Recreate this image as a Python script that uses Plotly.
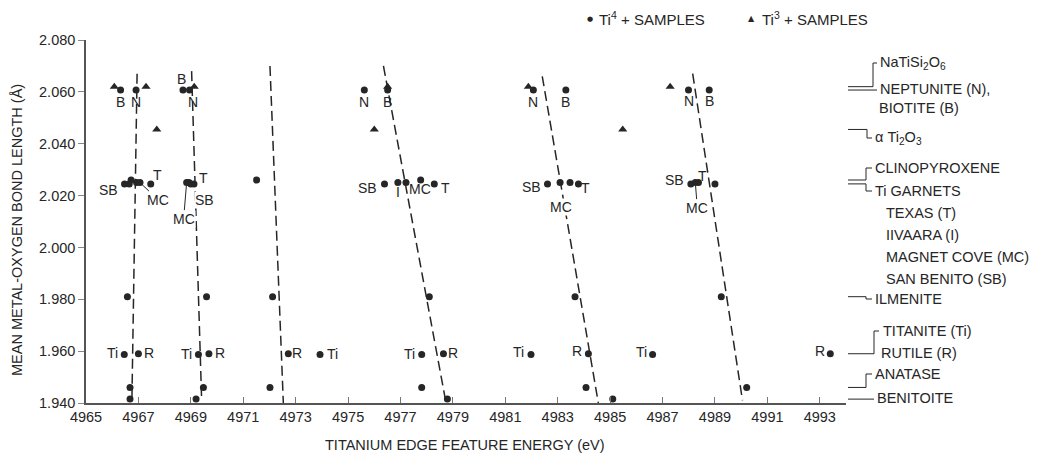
import plotly.graph_objects as go

# ---------------- axes ----------------
X_RANGE = [4965, 4994]
Y_RANGE = [1.940, 2.080]
x_ticks = [4965, 4967, 4969, 4971, 4973, 4975, 4977, 4979, 4981, 4983, 4985, 4987, 4989, 4991, 4993]
y_ticks = [1.940, 1.960, 1.980, 2.000, 2.020, 2.040, 2.060, 2.080]

# ---------------- Ti4+ samples (circles) ----------------
neptunite_x = [4966.91, 4968.95, 4975.62, 4982.07, 4987.99]
neptunite_y = 2.0607
biotite_x = [4966.32, 4968.70, 4976.51, 4983.31, 4988.78]
biotite_y = 2.0607
clinopyroxene_x = [4966.72, 4971.51, 4977.77]
clinopyroxene_y = 2.026
garnet_T_x = [4967.47, 4969.12, 4978.29, 4983.79, 4989.00]
garnet_T_y = 2.0245
garnet_I_x = [4966.93, 4968.93, 4976.90, 4983.09, 4988.37]
garnet_I_y = 2.025
garnet_MC_x = [4967.06, 4968.84, 4977.21, 4983.47, 4988.25]
garnet_MC_y = 2.025
garnet_SB_x = [4966.47, 4966.65, 4969.00, 4976.39, 4982.61, 4988.08]
garnet_SB_y = 2.0245
ilmenite_x = [4966.58, 4969.60, 4972.12, 4978.10, 4983.66, 4989.24]
ilmenite_y = 1.981
titanite_x = [4966.46, 4969.29, 4973.93, 4977.81, 4981.98, 4986.62]
titanite_y = 1.9587
rutile_x = [4967.00, 4969.69, 4972.72, 4978.64, 4984.17, 4993.40]
rutile_y = 1.959
anatase_x = [4966.68, 4969.48, 4972.02, 4977.81, 4984.08, 4990.21]
anatase_y = 1.946
benitoite_x = [4966.68, 4969.20, 4978.79, 4985.10]
benitoite_y = 1.9415

# ---------------- Ti3+ samples (triangles) ----------------
natisi2o6_x = [4966.08, 4967.29, 4969.13, 4976.51, 4981.88, 4987.29]
natisi2o6_y = 2.062
ti2o3_x = [4967.70, 4976.00, 4985.48]
ti2o3_y = 2.0455

# ---------------- dashed trend lines (endpoints) ----------------
trend_x_top = [4966.95, 4969.03, 4972.02, 4976.35, 4982.41, 4988.15]
trend_y_top = [2.067, 2.068, 2.070, 2.070, 2.066, 2.067]
trend_x_bot = [4966.75, 4969.41, 4972.53, 4978.72, 4984.55, 4990.05]
trend_y_bot = [1.940, 1.942, 1.940, 1.941, 1.940, 1.941]

INK = "#262626"
FONT = "Liberation Sans, Arial, sans-serif"
LBL = 14      # point label size
SIDE = 14.5   # right-hand label size

# page body has an 8px default margin: build the figure so that it lands
# where the reference puts things (reference pixel coords used below)
OFF = 8
W, H = 1044 - OFF, 460 - OFF
L, R, T, B = 86, 846, 40, 403   # plot area in reference pixels

fig = go.Figure()

# trend lines
tx, ty = [], []
for a, b, c, d in zip(trend_x_top, trend_y_top, trend_x_bot, trend_y_bot):
    tx += [a, c, None]
    ty += [b, d, None]
fig.add_trace(go.Scatter(x=tx, y=ty, mode="lines",
                         line=dict(color=INK, width=1.5, dash="10px,5px"),
                         hoverinfo="skip", showlegend=False))

circle_sets = [
    (neptunite_x, neptunite_y), (biotite_x, biotite_y),
    (clinopyroxene_x, clinopyroxene_y), (garnet_T_x, garnet_T_y),
    (garnet_I_x, garnet_I_y), (garnet_MC_x, garnet_MC_y),
    (garnet_SB_x, garnet_SB_y), (ilmenite_x, ilmenite_y),
    (titanite_x, titanite_y), (rutile_x, rutile_y),
    (anatase_x, anatase_y), (benitoite_x, benitoite_y),
]
for xs, yv in circle_sets:
    fig.add_trace(go.Scatter(x=xs, y=[yv] * len(xs), mode="markers",
                             marker=dict(symbol="circle", size=7, color=INK),
                             showlegend=False))
for xs, yv in [(natisi2o6_x, natisi2o6_y), (ti2o3_x, ti2o3_y)]:
    fig.add_trace(go.Scatter(x=xs, y=[yv] * len(xs), mode="markers",
                             marker=dict(symbol="triangle-up", size=8, color=INK),
                             showlegend=False))

annotations = []


def lab(text, x, y, dx, dy, bg=None):
    d = dict(text=text, x=x, y=y, xref="x", yref="y", showarrow=False,
             xanchor="center", yanchor="middle",
             xshift=dx, yshift=dy, font=dict(size=LBL, color=INK, family=FONT))
    if bg:
        d.update(bgcolor=bg, borderpad=0)
    annotations.append(d)


def lead(text, x, y, ax, ay):
    annotations.append(dict(text=text, x=x, y=y, xref="x", yref="y", showarrow=True,
                            arrowhead=0, arrowwidth=1, arrowcolor=INK, ax=ax, ay=ay,
                            standoff=3, font=dict(size=LBL, color=INK, family=FONT),
                            bgcolor="white", borderpad=0))


# group A
lab("B", biotite_x[0], biotite_y, 0, -12)
lab("N", neptunite_x[0], neptunite_y, 0, -12)
lab("SB", garnet_SB_x[0], garnet_SB_y, -16, -6)
lab("T", garnet_T_x[0], garnet_T_y, 7, 9)
lead("MC", garnet_MC_x[0], garnet_MC_y, 18, 17)
lab("Ti", titanite_x[0], titanite_y, -12, 2)
lab("R", rutile_x[0], rutile_y, 11, 1)
# group B
lab("B", biotite_x[1], biotite_y, -1, 11)
lab("N", neptunite_x[1], neptunite_y, 3, -12)
lab("T", garnet_T_x[1], garnet_T_y, 10, 6)
lab("SB", garnet_SB_x[2], garnet_SB_y, 14, -16, bg="white")
lead("MC", garnet_MC_x[1], garnet_MC_y, -3, 36)
lab("Ti", titanite_x[1], titanite_y, -12, 1)
lab("R", rutile_x[1], rutile_y, 11, 1)
# group C
lab("R", rutile_x[2], rutile_y, 9, 1)
lab("Ti", titanite_x[2], titanite_y, 12, 1)
# group D
lab("N", neptunite_x[2], neptunite_y, 0, -12)
lab("B", biotite_x[2], biotite_y, 0, -12)
lab("SB", garnet_SB_x[3], garnet_SB_y, -17, -4)
lab("I", garnet_I_x[2], garnet_I_y, 0, -9)
lab("MC", garnet_MC_x[2], garnet_MC_y, 14, -6)
lab("T", garnet_T_x[2], garnet_T_y, 11, -4)
lab("Ti", titanite_x[3], titanite_y, -12, 1)
lab("R", rutile_x[3], rutile_y, 10, 1)
# group E
lab("N", neptunite_x[3], neptunite_y, 0, -12)
lab("B", biotite_x[3], biotite_y, 0, -12)
lab("SB", garnet_SB_x[4], garnet_SB_y, -16, -3)
lab("T", garnet_T_x[3], garnet_T_y, 7, -4)
lab("MC", garnet_MC_x[3], garnet_MC_y, -9, -24, bg="white")
lab("Ti", titanite_x[4], titanite_y, -12, 3)
lab("R", rutile_x[4], rutile_y, -11, 3)
lab("Ti", titanite_x[5], titanite_y, -11, 3)
# group F
lab("N", neptunite_x[4], neptunite_y, 0, -11)
lab("B", biotite_x[4], biotite_y, 0, -11)
lab("SB", garnet_SB_x[5], garnet_SB_y, -16, 4)
lab("T", garnet_T_x[4], garnet_T_y, -12, 8)
lead("MC", garnet_MC_x[4], garnet_MC_y, 2, 25)
lab("R", rutile_x[5], rutile_y, -10, 3)


# ---------------- geometry helpers for outside-plot text ----------------
def PX(px):
    return (px - L) / (R - L)


def PY(py):
    return (B - py) / (B - T)


def DY(v):
    return (v - Y_RANGE[0]) / (Y_RANGE[1] - Y_RANGE[0])


shapes = []


def seg(x0, y0, x1, y1):
    shapes.append(dict(type="line", xref="paper", yref="paper", x0=PX(x0), x1=PX(x1),
                       y0=y0, y1=y1, line=dict(color=INK, width=1)))


# NaTiSi2O6 / neptunite / biotite
seg(848, DY(natisi2o6_y), 873, DY(natisi2o6_y))
seg(873, DY(natisi2o6_y), 873, PY(63))
seg(873, PY(63), 877, PY(63))
seg(848, DY(neptunite_y), 877, DY(neptunite_y))
# alpha Ti2O3
seg(848, DY(ti2o3_y), 867, DY(ti2o3_y))
seg(867, DY(ti2o3_y), 867, PY(138))
seg(867, PY(138), 872, PY(138))
# clinopyroxene / garnets
seg(848, DY(clinopyroxene_y), 866, DY(clinopyroxene_y))
seg(866, DY(clinopyroxene_y), 866, PY(168))
seg(866, PY(168), 872, PY(168))
seg(848, DY(garnet_T_y), 866, DY(garnet_T_y))
seg(866, DY(garnet_T_y), 866, PY(191))
seg(866, PY(191), 872, PY(191))
# ilmenite
seg(848, DY(ilmenite_y), 866, DY(ilmenite_y))
seg(866, DY(ilmenite_y), 866, PY(299))
seg(866, PY(299), 872, PY(299))
# titanite / rutile
seg(848, DY(rutile_y), 874, DY(rutile_y))
seg(874, DY(rutile_y), 874, PY(331))
seg(874, PY(331), 879, PY(331))
# anatase
seg(848, DY(anatase_y), 866, DY(anatase_y))
seg(866, DY(anatase_y), 866, PY(374))
seg(866, PY(374), 872, PY(374))
# benitoite
seg(848, DY(benitoite_y), 874, DY(benitoite_y))

right_labels = [
    ("NaTiSi<sub>2</sub>O<sub>6</sub>", 878, 63),
    ("NEPTUNITE (N),", 878, 89),
    ("BIOTITE (B)", 877, 108),
    ("α Ti<sub>2</sub>O<sub>3</sub>", 873, 138),
    ("CLINOPYROXENE", 873, 168),
    ("Ti GARNETS", 873, 191),
    ("TEXAS (T)", 884, 213),
    ("IIVAARA (I)", 884, 235),
    ("MAGNET COVE (MC)", 884, 257),
    ("SAN BENITO (SB)", 884, 279),
    ("ILMENITE", 873, 299),
    ("TITANITE (Ti)", 881, 331),
    ("RUTILE (R)", 879, 353),
    ("ANATASE", 873, 374),
    ("BENITOITE", 875, 398),
]
for text, px, py in right_labels:
    annotations.append(dict(text=text, x=PX(px), y=PY(py), xref="paper", yref="paper",
                            xanchor="left", yanchor="middle", showarrow=False,
                            font=dict(size=SIDE, color=INK, family=FONT)))

# legend (top)
annotations += [
    dict(text="●", x=PX(590), y=PY(19), xref="paper", yref="paper", showarrow=False,
         xanchor="center", yanchor="middle",
         font=dict(size=7, color=INK, family="DejaVu Sans")),
    dict(text="Ti<sup>4</sup> + SAMPLES", x=PX(597), y=PY(19), xref="paper", yref="paper",
         xanchor="left", yanchor="middle", showarrow=False,
         font=dict(size=15, color=INK, family=FONT)),
    dict(text="▲", x=PX(751), y=PY(18), xref="paper", yref="paper", showarrow=False,
         xanchor="center", yanchor="middle",
         font=dict(size=8, color=INK, family="DejaVu Sans")),
    dict(text="Ti<sup>3</sup> + SAMPLES", x=PX(760), y=PY(19), xref="paper", yref="paper",
         xanchor="left", yanchor="middle", showarrow=False,
         font=dict(size=15, color=INK, family=FONT)),
]

# axis titles
annotations += [
    dict(text="TITANIUM EDGE FEATURE ENERGY (eV)", x=PX(465), y=PY(445), xref="paper",
         yref="paper", xanchor="center", yanchor="middle", showarrow=False,
         font=dict(size=14.5, color=INK, family=FONT)),
    dict(text="MEAN METAL-OXYGEN BOND LENGTH (Å)", x=PX(17), y=PY(230), xref="paper",
         yref="paper", xanchor="center", yanchor="middle", showarrow=False, textangle=-90,
         font=dict(size=14.5, color=INK, family=FONT)),
]

fig.update_layout(
    width=W, height=H,
    margin=dict(l=L - OFF, r=W - (R - OFF), t=T - OFF, b=H - (B - OFF), pad=0),
    paper_bgcolor="white", plot_bgcolor="white",
    showlegend=False,
    annotations=annotations, shapes=shapes,
    font=dict(family=FONT, color=INK),
)
fig.update_xaxes(range=X_RANGE, tickvals=x_ticks, ticktext=[str(v) for v in x_ticks],
                 ticks="inside", ticklen=6, tickcolor="#777", showline=True,
                 linecolor="#555", linewidth=1.5, showgrid=False, zeroline=False,
                 tickfont=dict(size=14.5, color=INK, family=FONT))
fig.update_yaxes(range=Y_RANGE, tickvals=y_ticks, ticktext=[f"{v:.3f}" for v in y_ticks],
                 ticks="outside", ticklen=6, tickcolor="#888", showline=True,
                 linecolor="#555", linewidth=1.5, showgrid=False, zeroline=False,
                 tickfont=dict(size=14.5, color=INK, family=FONT))

fig.write_html("out.html")
